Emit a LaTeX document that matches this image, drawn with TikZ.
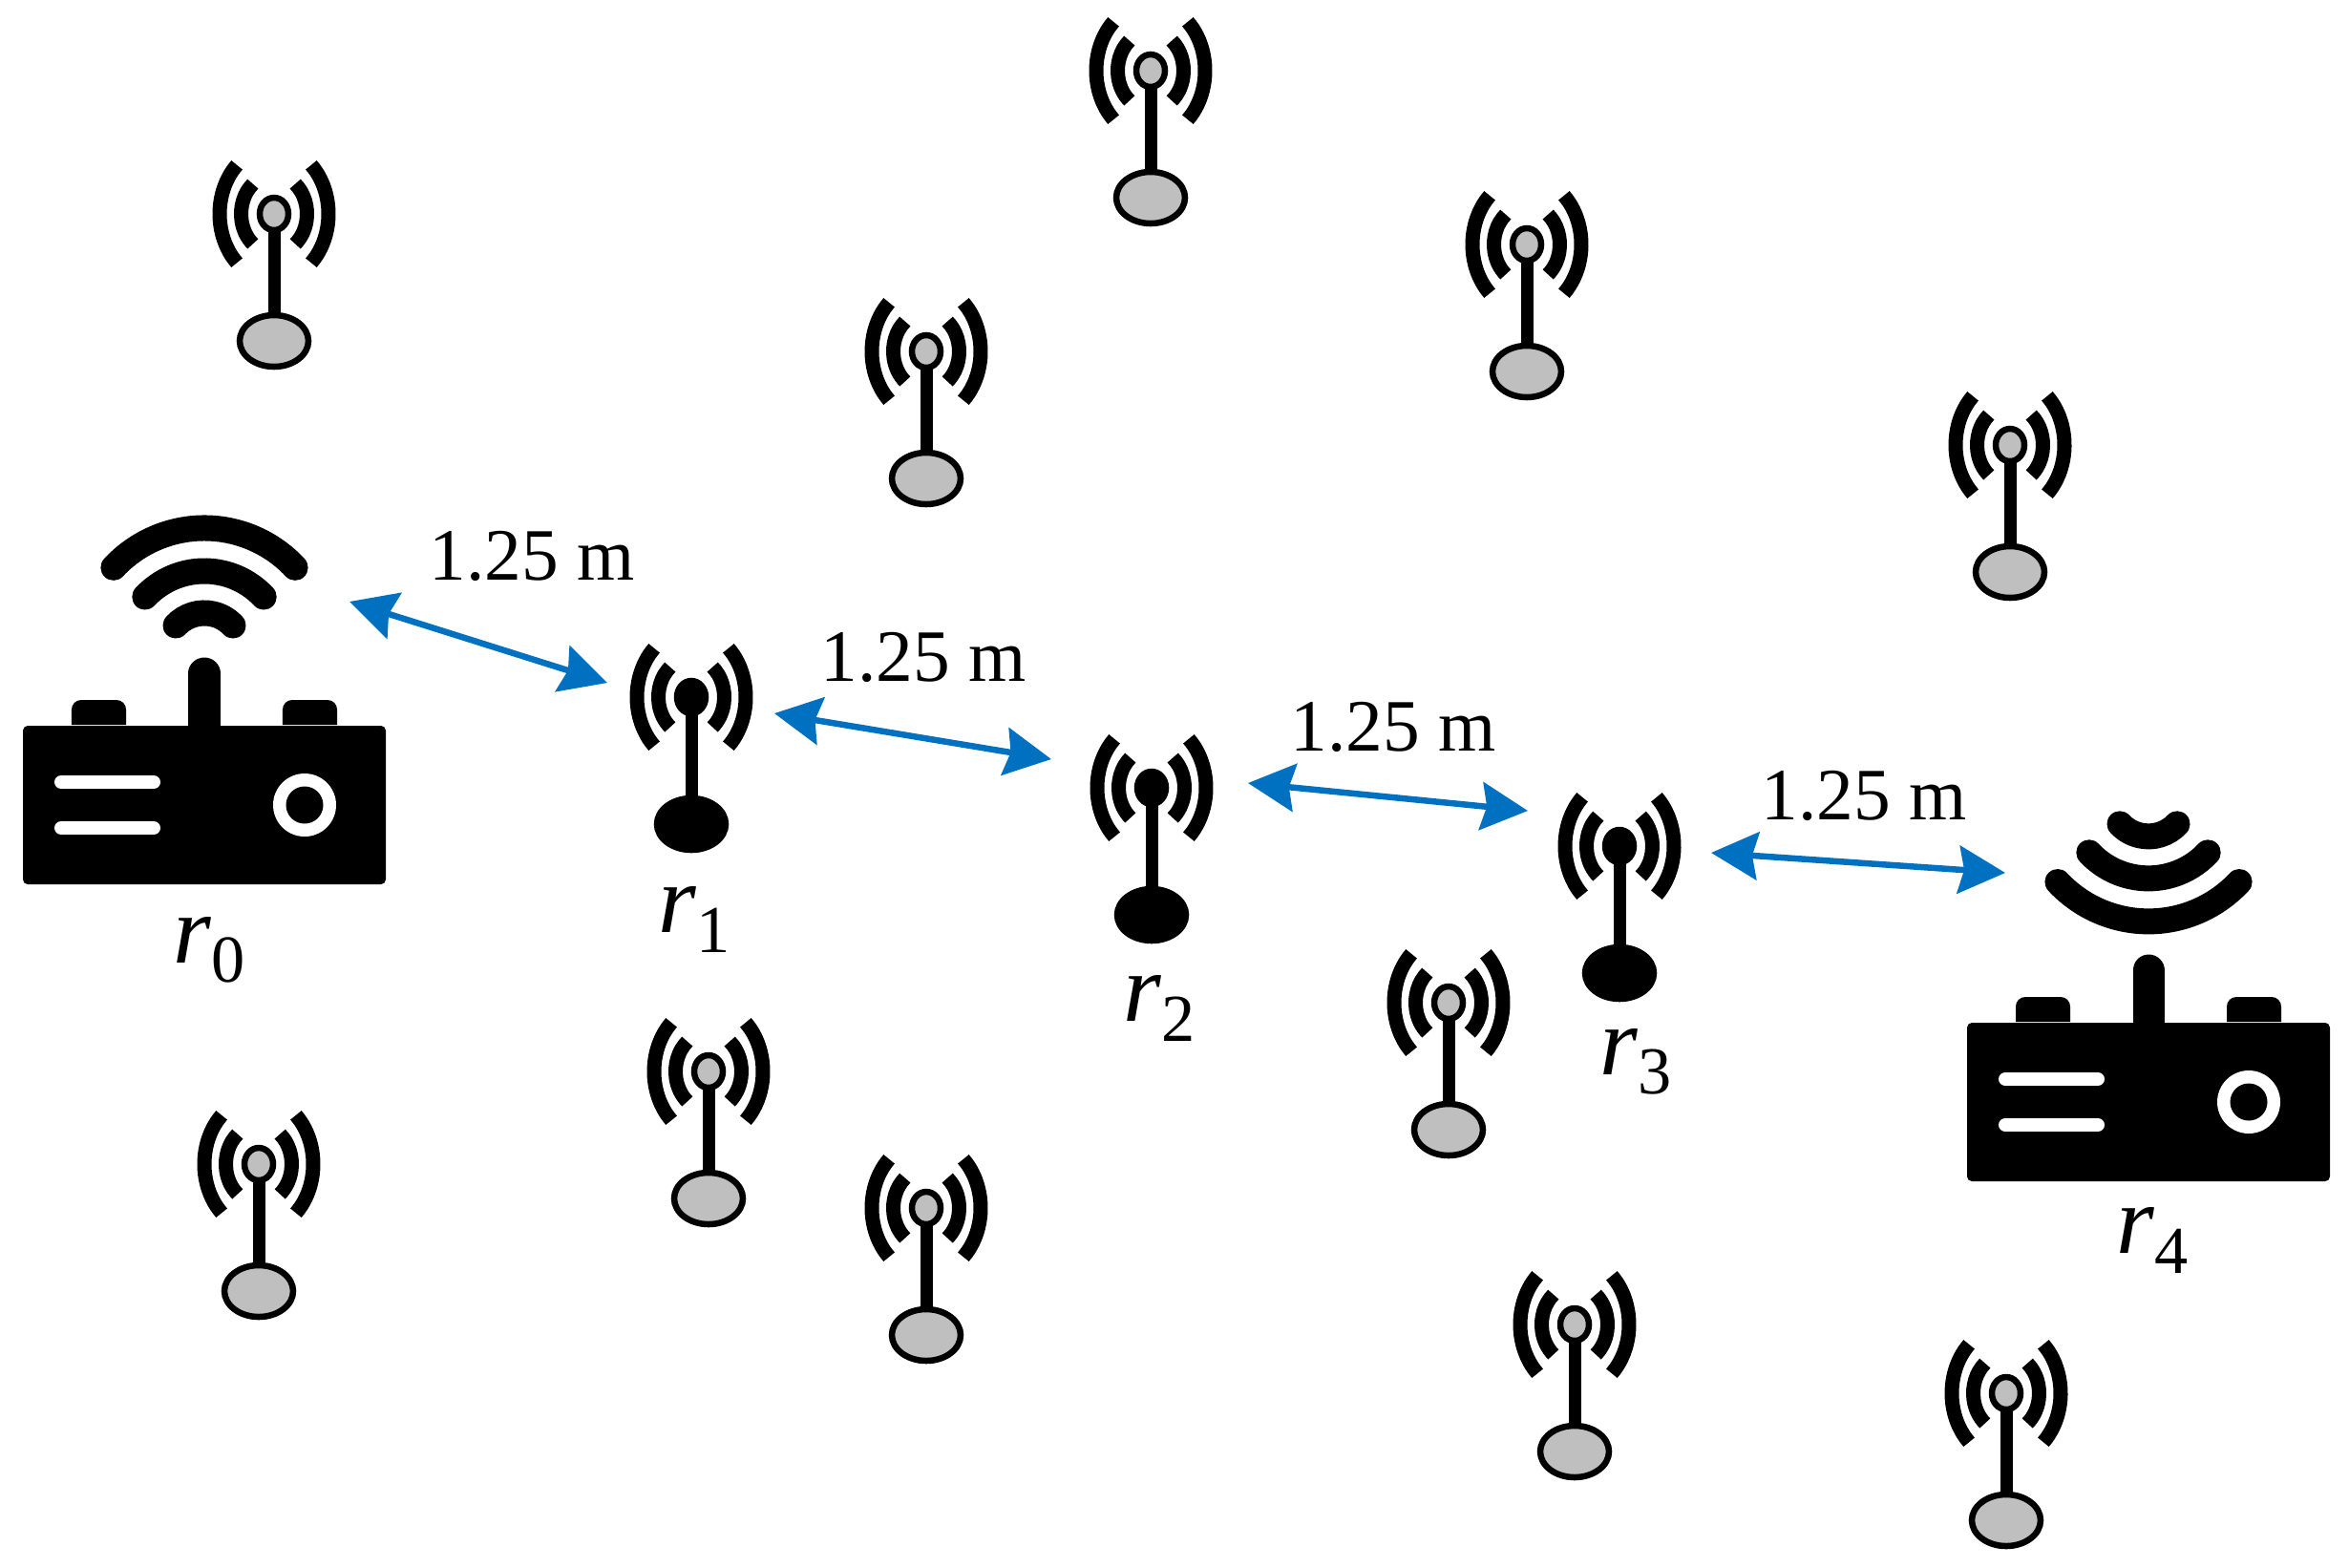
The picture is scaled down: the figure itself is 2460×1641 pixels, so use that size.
\documentclass[tikz,border=0pt]{standalone}
\usepackage{fontspec}
\setmainfont{Liberation Serif}
\usetikzlibrary{arrows.meta}
\definecolor{linkblue}{HTML}{0070C0}
\definecolor{nodegray}{HTML}{BFBFBF}
\newcommand{\rname}[1]{\textit{r}\raisebox{-.2em}{\fontsize{20}{20}\selectfont #1}}
\tikzset{
    link/.style={{Stealth[length=.49cm,width=.5cm,inset=.06cm]}-{Stealth[length=.49cm,width=.5cm,inset=.06cm]},color=linkblue,line width=.065cm},
    dist/.style={font=\fontsize{22}{26}\selectfont,inner sep=0pt},
    rlabel/.style={font=\fontsize{29}{32}\selectfont,inner sep=0pt},
    pics/antenna/.style={code={
        \fill (-6.5,0) rectangle (6.5,120);
        \draw[line width=.065cm,fill=#1] (0,0) ellipse [x radius=15,y radius=17];
        \draw[line width=.065cm,fill=#1] (0,133) ellipse [x radius=36,y radius=27];
        \foreach \R/\S/\T in {34.5/41/50,57/70/47}{
            \draw[line width=.15cm] ({\R*cos(\T)},{-\S*sin(\T)}) arc [start angle=-\T,end angle=\T,x radius=\R,y radius=\S];
            \draw[line width=.15cm] ({-\R*cos(\T)},{-\S*sin(\T)}) arc [start angle=180+\T,end angle=180-\T,x radius=\R,y radius=\S];
        }
    }},
    pics/router/.style 2 args={code={
        \fill[rounded corners=.05cm] (-190,0) rectangle (190,166);
        \draw[line width=.33cm,line cap=round] (0,5) -- (0,-55);
        \foreach \X in {-110.5,110.5}
            \fill ([xshift=-.285cm]\X,-1) [rounded corners=.1cm] -- ([xshift=-.285cm]\X,-27) -- ([xshift=.285cm]\X,-27) [sharp corners] -- ([xshift=.285cm]\X,-1) -- cycle;
        \foreach \Y in {59,107}
            \draw[white,line width=.14cm,line cap=round] (-150,\Y) -- (-53,\Y);
        \fill[white] (105,83) circle [radius=33];
        \fill (105,83) circle [radius=19.5];
        \foreach \R in {41,85,130}
            \draw[line width=.27cm,line cap=round] ([yshift=#1]#2:\R) arc [start angle=#2,delta angle=94,radius=\R];
    }},
}
\begin{document}
\begin{tikzpicture}[x=.01cm,y=-.01cm]
    \useasboundingbox (0,0) rectangle (2460,1641);
    \foreach \X/\Y [count=\N] in {287/224,1205/74,970/368,1599/256,2105/466,1517/1050,742/1122,271/1219,970/1265,1649/1387,2101/1459}
        \pic (idle\N) at (\X,\Y) {antenna=nodegray};
    \foreach \X/\Y [count=\N] in {724/730,1206/825,1696/886}
        \pic (relay\N) at (\X,\Y) {antenna=black};
    \pic (router0) at (214,760) {router={.77cm}{223}};
    \pic (router4) at (2250,1071) {router={2.36cm}{43}};
    \coordinate (hop1a) at (366,630);
    \coordinate (hop1b) at (636,715);
    \coordinate (hop2a) at (811,747);
    \coordinate (hop2b) at (1101,795);
    \coordinate (hop3a) at (1307,820);
    \coordinate (hop3b) at (1600,849);
    \coordinate (hop4a) at (1792,893);
    \coordinate (hop4b) at (2100,914);
    \foreach \N in {1,...,4}
        \draw[link] (hop\N a) -- (hop\N b);
    \foreach \N/\X/\Y in {1/557/582,2/967/688,3/1459/761,4/1952/833}
        \node[dist] (dist\N) at (\X,\Y) {1.25 m};
    \foreach \N/\X/\Y in {0/219/995,1/727/963,2/1214/1056,3/1713/1112,4/2254/1299}
        \node[rlabel] (label\N) at (\X,\Y) {\rname{\N}};
\end{tikzpicture}
\end{document}
